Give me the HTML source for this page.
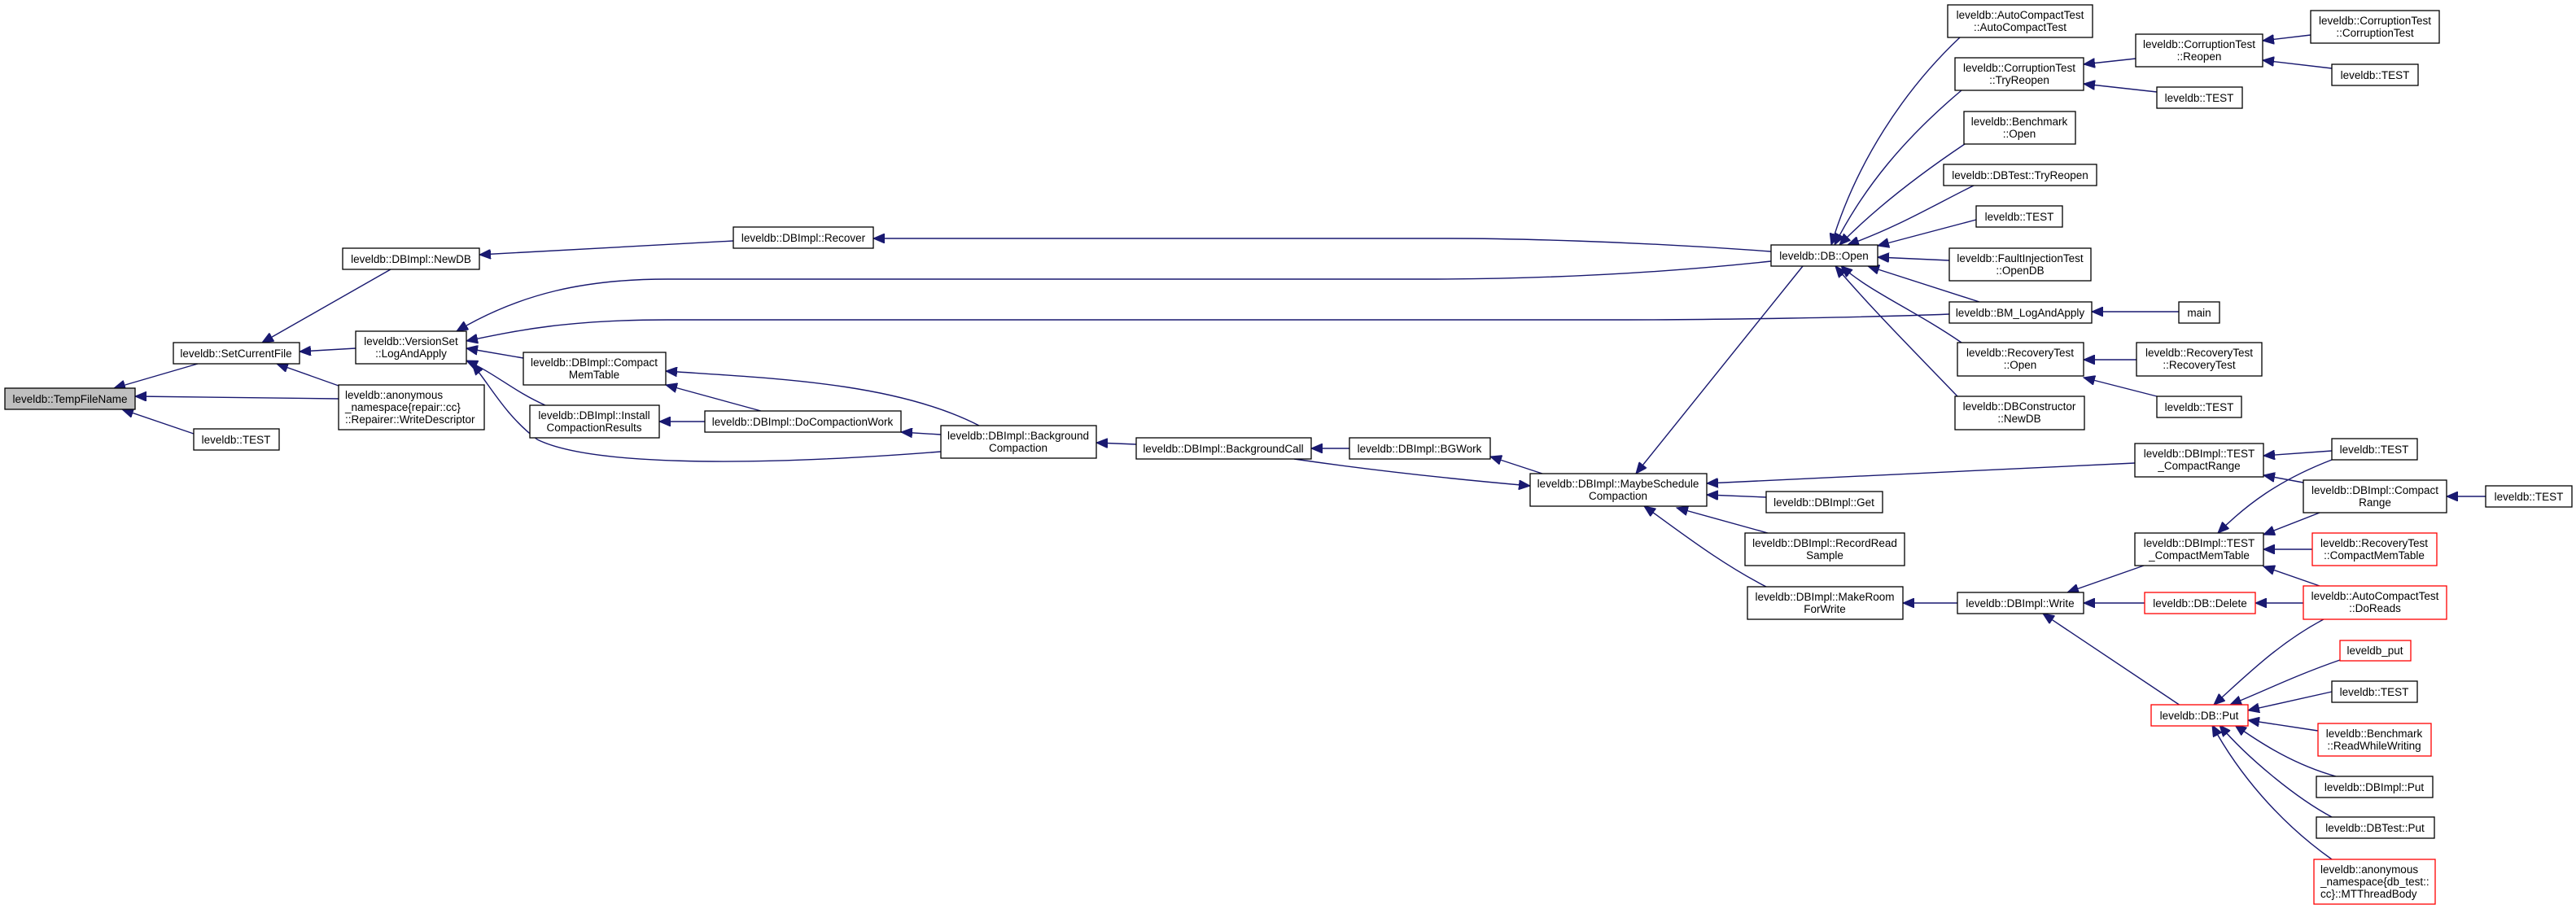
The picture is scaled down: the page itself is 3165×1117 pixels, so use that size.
<!DOCTYPE html>
<html><head><meta charset="utf-8"><style>
html,body{margin:0;padding:0;background:#fff;}
svg{display:block;}
text{font-family:"Liberation Sans",Arial,sans-serif;font-size:13.5px;fill:#000;}
.n{fill:#fff;stroke:#000;stroke-width:1.3;}
.r{fill:#fff;stroke:#f00;stroke-width:1.3;}
.g{fill:#bfbfbf;stroke:#000;stroke-width:1.3;}
.e{fill:none;stroke:#191970;stroke-width:1.4;}
</style></head><body>
<svg width="3165" height="1117" viewBox="0 0 3165 1117" xmlns="http://www.w3.org/2000/svg">
<defs><marker id="a" markerUnits="userSpaceOnUse" markerWidth="16" markerHeight="12" refX="14" refY="6" orient="auto"><path d="M0,0 L14,6 L0,12 z" fill="#191970" stroke="#191970"/></marker></defs>
<g marker-end="url(#a)">
<path class="e" d="M243,447 L140,477"/>
<path class="e" d="M416,490 L166,487"/>
<path class="e" d="M238,533 L150,503"/>
<path class="e" d="M480,331 L322,421"/>
<path class="e" d="M437,428 L368,432"/>
<path class="e" d="M416,474 L340,447"/>
<path class="e" d="M901,296 L589,313"/>
<path class="e" d="M2176,309 C2000,296 1850,293 1780,293 L1180,293 L1073,293"/>
<path class="e" d="M2176,321 C2000,340 1850,343 1750,343 L820,343 C720,343 640,360 561,407"/>
<path class="e" d="M2395,386 C2300,390 2100,393 2000,393 L820,393 C700,393 640,405 573,419"/>
<path class="e" d="M643,440 L573,428"/>
<path class="e" d="M670,498 C630,480 610,460 573,443"/>
<path class="e" d="M1156,555 C900,575 720,570 660,540 C620,510 600,470 580,447"/>
<path class="e" d="M935,505 L818,473"/>
<path class="e" d="M866,518 L810,518"/>
<path class="e" d="M1203,523 C1100,470 950,465 818,456"/>
<path class="e" d="M1156,534 L1107,531"/>
<path class="e" d="M1396,546 L1347,544"/>
<path class="e" d="M1658,551 L1611,551"/>
<path class="e" d="M1590,564 C1700,580 1800,590 1880,597"/>
<path class="e" d="M1895,582 L1831,561"/>
<path class="e" d="M2215,327 L2010,582"/>
<path class="e" d="M2408,46 C2340,110 2280,200 2250,301"/>
<path class="e" d="M2410,111 C2340,170 2290,230 2254,301"/>
<path class="e" d="M2414,177 C2350,220 2300,260 2260,301"/>
<path class="e" d="M2425,228 C2380,250 2330,280 2270,301"/>
<path class="e" d="M2428,270 L2307,302"/>
<path class="e" d="M2395,320 L2307,316"/>
<path class="e" d="M2432,371 L2295,327"/>
<path class="e" d="M2410,421 C2350,380 2300,360 2262,327"/>
<path class="e" d="M2405,487 C2360,440 2300,380 2255,327"/>
<path class="e" d="M2624,72 L2560,79"/>
<path class="e" d="M2650,113 L2560,103"/>
<path class="e" d="M2839,43 L2780,50"/>
<path class="e" d="M2865,84 L2780,74"/>
<path class="e" d="M2677,383 L2570,383"/>
<path class="e" d="M2625,442 L2560,442"/>
<path class="e" d="M2650,487 L2560,464"/>
<path class="e" d="M2623,569 L2097,594"/>
<path class="e" d="M2170,611 L2097,608"/>
<path class="e" d="M2172,655 L2060,624"/>
<path class="e" d="M2170,721 C2110,690 2060,650 2020,622"/>
<path class="e" d="M2405,741 L2338,741"/>
<path class="e" d="M2634,695 L2540,728"/>
<path class="e" d="M2635,741 L2560,741"/>
<path class="e" d="M2679,867 L2510,754"/>
<path class="e" d="M2865,554 L2781,560"/>
<path class="e" d="M2865,565 C2800,590 2760,620 2725,655"/>
<path class="e" d="M2830,593 L2781,584"/>
<path class="e" d="M2850,630 L2781,657"/>
<path class="e" d="M3054,610 L3006,610"/>
<path class="e" d="M2841,675 L2781,675"/>
<path class="e" d="M2850,720 L2781,696"/>
<path class="e" d="M2830,741 L2771,741"/>
<path class="e" d="M2855,761 C2800,790 2760,830 2720,866"/>
<path class="e" d="M2875,811 C2820,830 2780,850 2740,866"/>
<path class="e" d="M2865,850 L2762,873"/>
<path class="e" d="M2848,898 L2762,885"/>
<path class="e" d="M2870,954 C2820,940 2780,915 2746,891"/>
<path class="e" d="M2865,1004 C2820,980 2760,930 2727,891"/>
<path class="e" d="M2865,1056 C2800,1010 2750,950 2718,891"/>
</g>
<g>
<rect class="g" x="6" y="477" width="160" height="26"/><text x="86" y="495" text-anchor="middle">leveldb::TempFileName</text>
<rect class="n" x="213" y="421" width="155" height="26"/><text x="290" y="439" text-anchor="middle">leveldb::SetCurrentFile</text>
<rect class="n" x="421" y="305" width="168" height="26"/><text x="505" y="323" text-anchor="middle">leveldb::DBImpl::NewDB</text>
<rect class="n" x="901" y="279" width="172" height="26"/><text x="987" y="297" text-anchor="middle">leveldb::DBImpl::Recover</text>
<rect class="n" x="437" y="407" width="136" height="40"/><text x="505" y="424" text-anchor="middle">leveldb::VersionSet</text><text x="505" y="439" text-anchor="middle">::LogAndApply</text>
<rect class="n" x="416" y="473" width="179" height="55"/><text x="424" y="490">leveldb::anonymous</text><text x="424" y="505">_namespace{repair::cc}</text><text x="424" y="520">::Repairer::WriteDescriptor</text>
<rect class="n" x="238" y="527" width="105" height="26"/><text x="290" y="545" text-anchor="middle">leveldb::TEST</text>
<rect class="n" x="643" y="433" width="175" height="40"/><text x="730" y="450" text-anchor="middle">leveldb::DBImpl::Compact</text><text x="730" y="465" text-anchor="middle">MemTable</text>
<rect class="n" x="651" y="498" width="159" height="40"/><text x="730" y="515" text-anchor="middle">leveldb::DBImpl::Install</text><text x="730" y="530" text-anchor="middle">CompactionResults</text>
<rect class="n" x="866" y="505" width="241" height="26"/><text x="986" y="523" text-anchor="middle">leveldb::DBImpl::DoCompactionWork</text>
<rect class="n" x="1156" y="523" width="191" height="40"/><text x="1251" y="540" text-anchor="middle">leveldb::DBImpl::Background</text><text x="1251" y="555" text-anchor="middle">Compaction</text>
<rect class="n" x="1396" y="538" width="215" height="26"/><text x="1503" y="556" text-anchor="middle">leveldb::DBImpl::BackgroundCall</text>
<rect class="n" x="1658" y="538" width="173" height="26"/><text x="1744" y="556" text-anchor="middle">leveldb::DBImpl::BGWork</text>
<rect class="n" x="2176" y="301" width="131" height="26"/><text x="2241" y="319" text-anchor="middle">leveldb::DB::Open</text>
<rect class="n" x="1880" y="582" width="217" height="40"/><text x="1988" y="599" text-anchor="middle">leveldb::DBImpl::MaybeSchedule</text><text x="1988" y="614" text-anchor="middle">Compaction</text>
<rect class="n" x="2393" y="6" width="178" height="40"/><text x="2482" y="23" text-anchor="middle">leveldb::AutoCompactTest</text><text x="2482" y="38" text-anchor="middle">::AutoCompactTest</text>
<rect class="n" x="2402" y="71" width="158" height="40"/><text x="2481" y="88" text-anchor="middle">leveldb::CorruptionTest</text><text x="2481" y="103" text-anchor="middle">::TryReopen</text>
<rect class="n" x="2624" y="42" width="156" height="40"/><text x="2702" y="59" text-anchor="middle">leveldb::CorruptionTest</text><text x="2702" y="74" text-anchor="middle">::Reopen</text>
<rect class="n" x="2839" y="13" width="158" height="40"/><text x="2918" y="30" text-anchor="middle">leveldb::CorruptionTest</text><text x="2918" y="45" text-anchor="middle">::CorruptionTest</text>
<rect class="n" x="2865" y="79" width="106" height="26"/><text x="2918" y="97" text-anchor="middle">leveldb::TEST</text>
<rect class="n" x="2650" y="107" width="105" height="26"/><text x="2702" y="125" text-anchor="middle">leveldb::TEST</text>
<rect class="n" x="2413" y="137" width="137" height="40"/><text x="2481" y="154" text-anchor="middle">leveldb::Benchmark</text><text x="2481" y="169" text-anchor="middle">::Open</text>
<rect class="n" x="2388" y="202" width="188" height="26"/><text x="2482" y="220" text-anchor="middle">leveldb::DBTest::TryReopen</text>
<rect class="n" x="2428" y="253" width="106" height="26"/><text x="2481" y="271" text-anchor="middle">leveldb::TEST</text>
<rect class="n" x="2395" y="305" width="174" height="40"/><text x="2482" y="322" text-anchor="middle">leveldb::FaultInjectionTest</text><text x="2482" y="337" text-anchor="middle">::OpenDB</text>
<rect class="n" x="2395" y="371" width="175" height="26"/><text x="2482" y="389" text-anchor="middle">leveldb::BM_LogAndApply</text>
<rect class="n" x="2677" y="371" width="50" height="26"/><text x="2702" y="389" text-anchor="middle">main</text>
<rect class="n" x="2405" y="421" width="155" height="41"/><text x="2482" y="438" text-anchor="middle">leveldb::RecoveryTest</text><text x="2482" y="453" text-anchor="middle">::Open</text>
<rect class="n" x="2625" y="421" width="154" height="41"/><text x="2702" y="438" text-anchor="middle">leveldb::RecoveryTest</text><text x="2702" y="453" text-anchor="middle">::RecoveryTest</text>
<rect class="n" x="2650" y="487" width="104" height="26"/><text x="2702" y="505" text-anchor="middle">leveldb::TEST</text>
<rect class="n" x="2402" y="487" width="159" height="41"/><text x="2481" y="504" text-anchor="middle">leveldb::DBConstructor</text><text x="2481" y="519" text-anchor="middle">::NewDB</text>
<rect class="n" x="2623" y="545" width="158" height="41"/><text x="2702" y="562" text-anchor="middle">leveldb::DBImpl::TEST</text><text x="2702" y="577" text-anchor="middle">_CompactRange</text>
<rect class="n" x="2865" y="539" width="105" height="26"/><text x="2917" y="557" text-anchor="middle">leveldb::TEST</text>
<rect class="n" x="2830" y="590" width="176" height="40"/><text x="2918" y="607" text-anchor="middle">leveldb::DBImpl::Compact</text><text x="2918" y="622" text-anchor="middle">Range</text>
<rect class="n" x="3054" y="597" width="106" height="26"/><text x="3107" y="615" text-anchor="middle">leveldb::TEST</text>
<rect class="n" x="2170" y="604" width="143" height="26"/><text x="2241" y="622" text-anchor="middle">leveldb::DBImpl::Get</text>
<rect class="n" x="2144" y="655" width="196" height="40"/><text x="2242" y="672" text-anchor="middle">leveldb::DBImpl::RecordRead</text><text x="2242" y="687" text-anchor="middle">Sample</text>
<rect class="n" x="2623" y="655" width="158" height="40"/><text x="2702" y="672" text-anchor="middle">leveldb::DBImpl::TEST</text><text x="2702" y="687" text-anchor="middle">_CompactMemTable</text>
<rect class="r" x="2841" y="655" width="153" height="40"/><text x="2917" y="672" text-anchor="middle">leveldb::RecoveryTest</text><text x="2917" y="687" text-anchor="middle">::CompactMemTable</text>
<rect class="n" x="2147" y="721" width="191" height="40"/><text x="2242" y="738" text-anchor="middle">leveldb::DBImpl::MakeRoom</text><text x="2242" y="753" text-anchor="middle">ForWrite</text>
<rect class="n" x="2405" y="728" width="155" height="26"/><text x="2482" y="746" text-anchor="middle">leveldb::DBImpl::Write</text>
<rect class="r" x="2635" y="728" width="136" height="26"/><text x="2703" y="746" text-anchor="middle">leveldb::DB::Delete</text>
<rect class="r" x="2830" y="720" width="176" height="41"/><text x="2918" y="737" text-anchor="middle">leveldb::AutoCompactTest</text><text x="2918" y="752" text-anchor="middle">::DoReads</text>
<rect class="r" x="2875" y="787" width="87" height="25"/><text x="2918" y="804" text-anchor="middle">leveldb_put</text>
<rect class="n" x="2865" y="837" width="105" height="26"/><text x="2917" y="855" text-anchor="middle">leveldb::TEST</text>
<rect class="r" x="2643" y="866" width="119" height="26"/><text x="2702" y="884" text-anchor="middle">leveldb::DB::Put</text>
<rect class="r" x="2848" y="889" width="139" height="40"/><text x="2917" y="906" text-anchor="middle">leveldb::Benchmark</text><text x="2917" y="921" text-anchor="middle">::ReadWhileWriting</text>
<rect class="n" x="2846" y="954" width="143" height="26"/><text x="2917" y="972" text-anchor="middle">leveldb::DBImpl::Put</text>
<rect class="n" x="2846" y="1004" width="145" height="26"/><text x="2918" y="1022" text-anchor="middle">leveldb::DBTest::Put</text>
<rect class="r" x="2843" y="1056" width="149" height="55"/><text x="2851" y="1073">leveldb::anonymous</text><text x="2851" y="1088">_namespace{db_test::</text><text x="2851" y="1103">cc}::MTThreadBody</text>
</g>
</svg>
</body></html>
